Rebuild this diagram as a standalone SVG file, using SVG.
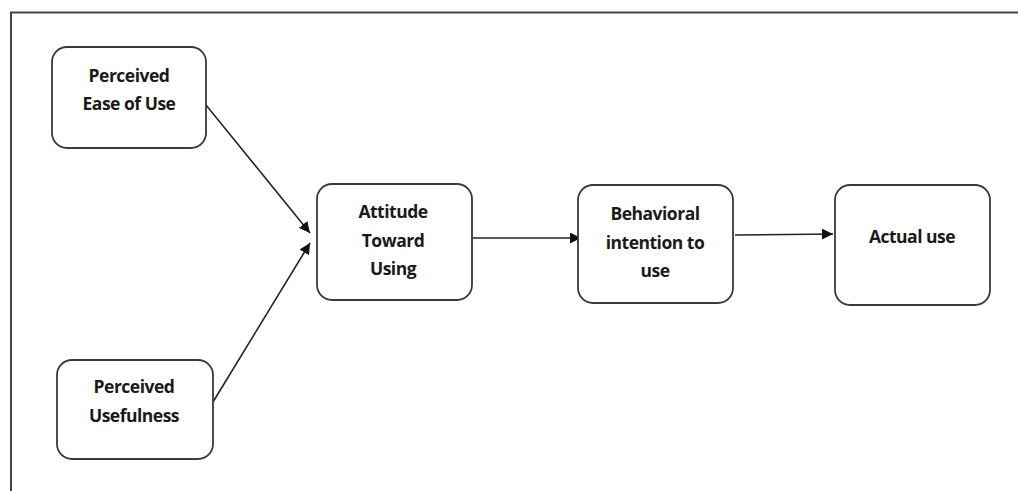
<svg xmlns="http://www.w3.org/2000/svg" width="1018" height="491" viewBox="0 0 1018 491">
<defs>
<marker id="ah" viewBox="0 0 10 10" refX="10" refY="5" markerWidth="11" markerHeight="11" markerUnits="userSpaceOnUse" orient="auto">
<path d="M0,0 L10,5 L0,10 z" fill="#111"/>
</marker>
<style>
.box{fill:#fff;stroke:#3a3a3a;stroke-width:1.8}
.lbl{font-family:"Open Sans","Liberation Sans",sans-serif;font-weight:700;font-size:17.5px;fill:#1a1a1a;text-anchor:middle;letter-spacing:-0.5px}
.edge{stroke:#222;stroke-width:1.6;fill:none;marker-end:url(#ah)}
.frame{stroke:#444;stroke-width:2;fill:none}
</style>
</defs>
<rect width="1018" height="491" fill="#fff"/>
<path class="frame" d="M11,491 V12.5 H1018"/>
<g id="connectors">
<line class="edge" x1="206" y1="105" x2="310" y2="233"/>
<line class="edge" x1="213" y1="402" x2="310" y2="243"/>
<line class="edge" x1="472" y1="238" x2="581" y2="238"/>
<line class="edge" x1="735" y1="235" x2="833" y2="234"/>
</g>
<g id="peou">
<rect class="box" x="52" y="47" width="154" height="101" rx="15"/>
<text class="lbl" x="129" y="82">Perceived</text>
<text class="lbl" x="129" y="110">Ease of Use</text>
</g>
<g id="pu">
<rect class="box" x="57" y="360" width="156" height="99" rx="15"/>
<text class="lbl" x="134" y="393">Perceived</text>
<text class="lbl" x="134" y="422">Usefulness</text>
</g>
<g id="atu">
<rect class="box" x="317" y="184" width="155" height="116" rx="15"/>
<text class="lbl" x="393" y="218">Attitude</text>
<text class="lbl" x="393" y="247">Toward</text>
<text class="lbl" x="393" y="275">Using</text>
</g>
<g id="biu">
<rect class="box" x="578" y="185" width="155" height="118" rx="15"/>
<text class="lbl" x="655" y="220">Behavioral</text>
<text class="lbl" x="655" y="249">intention to</text>
<text class="lbl" x="655" y="277">use</text>
</g>
<g id="au">
<rect class="box" x="835" y="185" width="155" height="120" rx="15"/>
<text class="lbl" x="912" y="243">Actual use</text>
</g>
</svg>
